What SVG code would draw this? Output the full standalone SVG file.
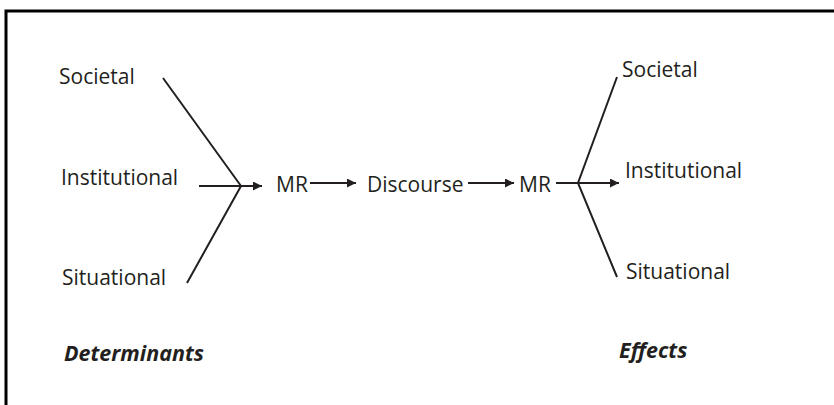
<svg xmlns="http://www.w3.org/2000/svg" width="834" height="405" viewBox="0 0 834 405">
<style>
.t{font-family:"Open Sans","Liberation Sans",sans-serif;font-size:21px;fill:#231f20}
.b{font-family:"Open Sans","Liberation Sans",sans-serif;font-size:21.5px;font-weight:bold;font-style:italic;fill:#231f20}
.l{stroke:#231f20;stroke-width:2;fill:none}
</style>
<defs>
<marker id="ah" viewBox="0 0 10 10" refX="10" refY="5" markerWidth="9" markerHeight="9" markerUnits="userSpaceOnUse" orient="auto">
<path d="M0,0L10,5L0,10z" fill="#231f20"/>
</marker>
</defs>
<rect width="834" height="405" fill="#fff"/>
<rect x="6" y="11" width="840" height="410" fill="none" stroke="#000" stroke-width="3"/>
<g id="det-societal"><text class="t" x="59" y="84">Societal</text></g>
<g id="det-institutional"><text class="t" x="61" y="185">Institutional</text></g>
<g id="det-situational"><text class="t" x="62" y="285">Situational</text></g>
<g id="mr1"><text class="t" x="276" y="192">MR</text></g>
<g id="discourse"><text class="t" x="367" y="192">Discourse</text></g>
<g id="mr2"><text class="t" x="519" y="192">MR</text></g>
<g id="eff-societal"><text class="t" x="622" y="77">Societal</text></g>
<g id="eff-institutional"><text class="t" x="625" y="178">Institutional</text></g>
<g id="eff-situational"><text class="t" x="626" y="279">Situational</text></g>
<g id="label-determinants"><text class="b" x="64" y="361">Determinants</text></g>
<g id="label-effects"><text class="b" x="619" y="358">Effects</text></g>
<g id="connectors">
<path class="l" d="M163,78L241,186L187,283"/>
<path class="l" d="M199,186L262,186" marker-end="url(#ah)"/>
<path class="l" d="M310,183L356,183" marker-end="url(#ah)"/>
<path class="l" d="M468,183L514,183" marker-end="url(#ah)"/>
<path class="l" d="M617,77L578,183L617,277"/>
<path class="l" d="M556,183L619,183" marker-end="url(#ah)"/>
</g>
</svg>
